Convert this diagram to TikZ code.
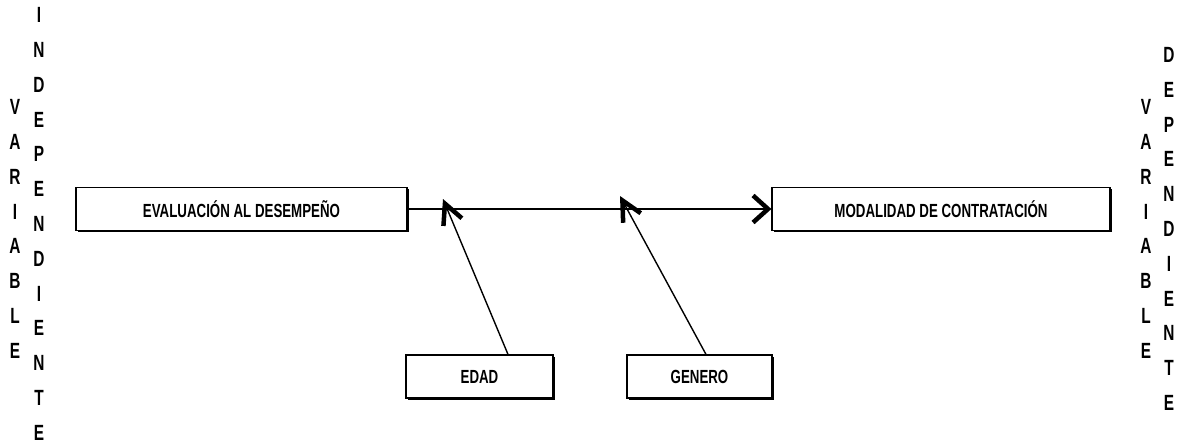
\documentclass[tikz,border=0pt]{standalone}
\usepackage{fontspec}
\setmainfont{Liberation Sans}[FakeStretch=0.7]
\usetikzlibrary{arrows.meta,shadows}

\begin{document}
\begin{tikzpicture}[x=1pt,y=-1pt,
	varbox/.style={draw,line width=1.2pt,minimum height=43pt,inner sep=0pt,fill=white,
		font=\bfseries\fontsize{19}{22}\selectfont,
		drop shadow={shadow xshift=1.6pt,shadow yshift=-1.6pt,fill=black,opacity=1}},
	vtext/.style={align=center,inner sep=0pt,font=\bfseries\fontsize{22}{34.8}\selectfont},
	link/.style={line width=1.4pt,-{Straight Barb[length=20pt,width=20pt,line width=4.5pt]}}]
			%%%%% START %%%%%
			\useasboundingbox (0, 0) rectangle (1181, 447);
			
			\node[vtext] (vari) at (15, 229) {V\\A\\R\\I\\A\\B\\L\\E};
			\node[vtext] (indep) at (39, 224) {I\\N\\D\\E\\P\\E\\N\\D\\I\\E\\N\\T\\E};
			
			\node[vtext] (varii) at (1146, 229) {V\\A\\R\\I\\A\\B\\L\\E};
			\node[vtext] (dep) at (1169, 229) {D\\E\\P\\E\\N\\D\\I\\E\\N\\T\\E};
			
			\node[varbox, minimum width=331pt] (eval) at (241.5, 209) {EVALUACIÓN AL DESEMPEÑO};
			\node[varbox, minimum width=338pt] (modal) at (941, 209) {MODALIDAD DE CONTRATACIÓN};
			\node[varbox, minimum width=147pt] (edad) at (479.5, 376.5) {EDAD};
			\node[varbox, minimum width=145pt] (genero) at (699.5, 376.5) {GENERO};
			
			\draw[line width=2.6pt, -{Straight Barb[length=15pt,width=27pt,line width=4.5pt]}] (eval) -- (modal);
			
			\coordinate (tipA) at (443, 199);
			\coordinate (tipB) at (620, 196);
			\draw[link] (edad.north -| 508, 0) -- (tipA);
			\draw[link] (genero.north -| 706, 0) -- (tipB);
			
			%%%%% END %%%%%
\end{tikzpicture}
\end{document}
